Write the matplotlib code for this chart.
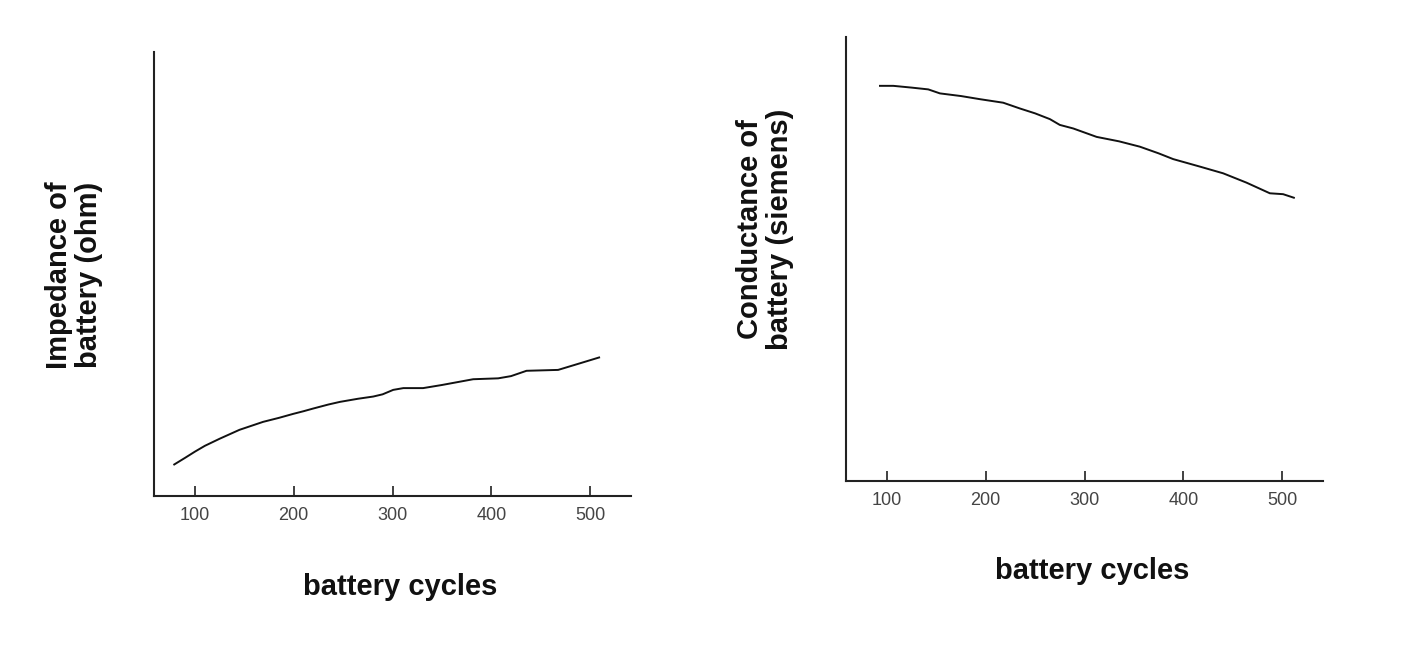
import matplotlib
matplotlib.use("Agg")
import matplotlib.pyplot as plt

# Left panel: impedance vs cycles (y in arbitrary units, 0-100)
imp_cycles = [79, 90, 100, 110, 125, 145, 169, 185, 199.5, 210, 219.7, 235, 246.8, 265, 280.5, 290, 300.7, 311, 331, 350, 381.7, 407, 420, 435.7, 467.7, 490, 509.2]
imp_values = [7.1, 8.6, 10.0, 11.3, 12.9, 14.9, 16.7, 17.6, 18.5, 19.1, 19.7, 20.6, 21.2, 21.9, 22.4, 22.9, 23.9, 24.3, 24.3, 25.0, 26.3, 26.5, 27.0, 28.2, 28.4, 29.9, 31.2]

# Right panel: conductance vs cycles (y in arbitrary units, 0-100)
cond_cycles = [92.9, 106.4, 125, 141.8, 153.6, 175, 194, 217.7, 234.6, 250, 265, 275, 288.6, 312.3, 335, 356, 375, 389.8, 417, 440.4, 464, 487.7, 501.1, 512]
cond_values = [89.0, 89.0, 88.6, 88.2, 87.3, 86.7, 86.0, 85.2, 83.9, 82.8, 81.5, 80.2, 79.4, 77.5, 76.5, 75.3, 73.8, 72.5, 70.8, 69.3, 67.2, 64.8, 64.6, 63.8]

xticks = [100, 200, 300, 400, 500]

W, H = 1424, 672
fig = plt.figure(figsize=(W / 100, H / 100), dpi=100)

label_font = dict(family=["Liberation Sans", "DejaVu Sans"], fontweight="bold", fontsize=21, color="#111111")

def make_ax(rect, x, y):
    ax = fig.add_axes(rect)
    ax.plot(x, y, color="#111111", lw=1.4)
    ax.set_xlim(58.5, 541.5)
    ax.set_ylim(0, 100)
    for s in ["top", "right"]:
        ax.spines[s].set_visible(False)
    for s in ["left", "bottom"]:
        ax.spines[s].set_color("#222222")
        ax.spines[s].set_linewidth(1.5)
    ax.set_yticks([])
    ax.set_xticks(xticks)
    ax.tick_params(axis="x", direction="in", length=7, width=1.3, color="#333333",
                   pad=8, labelsize=13, labelcolor="#444444")
    for t in ax.get_xticklabels():
        t.set_family(["Liberation Sans", "DejaVu Sans"])
    return ax

ax1 = make_ax([154 / W, 1 - 496 / H, 477 / W, 444 / H], imp_cycles, imp_values)
ax2 = make_ax([846 / W, 1 - 481 / H, 477 / W, 444 / H], cond_cycles, cond_values)

fig.text(400 / W, 1 - 587 / H, "battery cycles", ha="center", va="center", **label_font)
fig.text(1092 / W, 1 - 571 / H, "battery cycles", ha="center", va="center", **label_font)
fig.text(74 / W, 1 - 275 / H, "Impedance of\nbattery (ohm)", ha="center", va="center",
         rotation=90, linespacing=1.12, **label_font)
fig.text(765 / W, 1 - 229 / H, "Conductance of\nbattery (siemens)", ha="center", va="center",
         rotation=90, linespacing=1.12, **label_font)

fig.savefig("out.png", dpi=100, facecolor="white")
